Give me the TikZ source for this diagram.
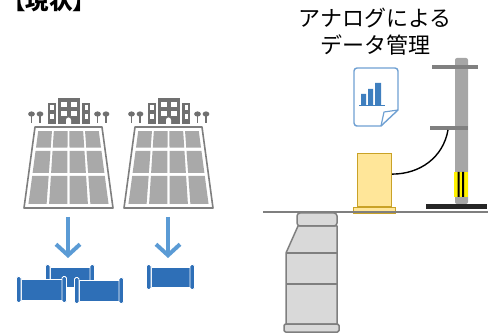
\documentclass[tikz,border=0pt]{standalone}
\usepackage{fontspec}
\newfontfamily\jpfont{Noto Sans CJK JP}
\usetikzlibrary{arrows.meta, positioning}

\definecolor{framegray}{HTML}{7F7F7F}
\definecolor{cellgray}{HTML}{A9A9A9}
\definecolor{bldggray}{HTML}{707070}
\definecolor{arrowblue}{HTML}{5B9BD5}
\definecolor{pipeblue}{HTML}{2E6FB7}
\definecolor{docblue}{HTML}{6FA0D2}
\definecolor{barblue}{HTML}{3F7FBF}
\definecolor{cabyellow}{HTML}{FFE699}
\definecolor{cabgold}{HTML}{C9A227}
\definecolor{polegray}{HTML}{A6A6A6}
\definecolor{armgray}{HTML}{808080}
\definecolor{holegray}{HTML}{D9D9D9}
\definecolor{plateblack}{HTML}{262626}
\definecolor{bandyellow}{HTML}{FFF200}

\begin{document}
\begin{tikzpicture}[
            x = 1pt,
            y = -1pt,
            declare function = {px(\u,\v) = 37.5-10.5*\v+\u*(62+21*\v);
                                py(\v)    = 129.5+76*\v;},
            panelframe/.style = {draw=framegray, fill=white, line width=1.6pt, line join=round},
            cell/.style       = {fill=cellgray},
            bldg/.style       = {fill=bldggray},
            flowarrow/.style  = {draw=arrowblue, line width=4pt,
                                 -{Straight Barb[length=11pt, width=24pt]}},
            pipebody/.style   = {fill=pipeblue, draw=white, line width=0.8pt},
            flange/.style     = {fill=pipeblue, draw=white, line width=0.8pt, rounded corners=1.5pt},
            cabinet/.style    = {draw=cabgold, fill=cabyellow, line width=1.2pt, inner sep=0pt},
            manhole/.style    = {draw=framegray, fill=holegray, line width=1.5pt, line join=round},
            cable/.style      = {draw=black, line width=1.4pt},
            label/.style      = {font=\jpfont\fontsize{22}{27}\selectfont, align=center, inner sep=0pt}
        ]
        \useasboundingbox (0,0) rectangle (488,334);

        % heading and caption
        \node[anchor=base west, inner sep=0pt, font=\jpfont\bfseries\fontsize{23.5}{28}\selectfont]
            (heading) at (2,10) {【現状】};
        \node[label] (caption) at (375,32) {アナログによる\\データ管理};

        % solar panels with the buildings behind them
        \foreach \ox in {0,100} {
            \pgfmathsetmacro{\cx}{68.5+\ox}
            \draw[panelframe] (35+\ox,127) -- (102+\ox,127) -- (113+\ox,208) -- (24+\ox,208) -- cycle;
            \foreach \ua/\ub in {0/.25,.25/.5,.5/.75,.75/1}
                \foreach \va/\vb in {0/.26,.26/.59,.59/1}
                    \fill[cell] ({px(\ua+.015,\va+.02)+\ox},{py(\va+.02)})
                             -- ({px(\ub-.015,\va+.02)+\ox},{py(\va+.02)})
                             -- ({px(\ub-.015,\vb-.02)+\ox},{py(\vb-.02)})
                             -- ({px(\ua+.015,\vb-.02)+\ox},{py(\vb-.02)}) -- cycle;
            % buildings
            \fill[bldg] (\cx-11,98) rectangle (\cx+11.5,124);
            \fill[bldg] (\cx-21,103) rectangle (\cx-12.5,124);
            \fill[bldg] (\cx+13,103) rectangle (\cx+21.5,124);
            \foreach \wy in {102,111} {
                \fill[white] (\cx-8,\wy) rectangle (\cx-2,\wy+5.5);
                \fill[white] (\cx+2,\wy) rectangle (\cx+8,\wy+5.5);
                \fill[white] (\cx-18.5,\wy+3.5) rectangle (\cx-15,\wy+8);
                \fill[white] (\cx+16,\wy+3.5) rectangle (\cx+19.5,\wy+8);
            }
            \fill[white] (\cx-2.5,124) -- (\cx-2.5,120) arc[start angle=180, end angle=0, radius=2.5pt] -- (\cx+2.5,124) -- cycle;
            % trees
            \foreach \tx in {-37,-28.5,29,37.5} {
                \draw[bldggray, line width=1.2pt] (\cx+\tx,114) -- (\cx+\tx,123);
                \fill[bldggray] (\cx+\tx,114) ellipse[x radius=3.4pt, y radius=2.6pt];
            }
        }

        % flow arrows
        \coordinate (from1) at (68,217);
        \coordinate (to1)   at (68,258);
        \coordinate (from2) at (168,217);
        \coordinate (to2)   at (168,258);
        \draw[flowarrow] (from1) -- (to1);
        \draw[flowarrow] (from2) -- (to2);

        % pipes: body x0/x1/y0/y1
        \foreach \xa/\xb/\ya/\yb in {50/90/267/287, 21/62/279/300, 79/119/280/301, 151/190/267/287} {
            \fill[pipebody] (\xa,\ya) rectangle (\xb,\yb);
            \draw[flange] (\xa-4.5,\ya-2.5) rectangle (\xa,\yb+2.5);
            \draw[flange] (\xb,\ya-2.5) rectangle (\xb+4.5,\yb+2.5);
        }

        % data sheet
        \draw[docblue, line width=1.4pt, line join=round]
            (381,126) -- (356,126) [rounded corners=3pt] -- (354,126) -- (354,68) -- (398,68) [sharp corners] -- (398,110) -- cycle;
        \draw[docblue, line width=1.2pt, line join=round] (398,110) -- (384,112) -- (381,126);
        \fill[barblue] (361,94) rectangle (366,105)
                       (368,89) rectangle (373,105)
                       (375,83) rectangle (381,105);
        \draw[barblue, line width=1pt] (359,105.5) -- (385,105.5);

        % manhole below ground
        \draw[manhole] (298,226) -- (337,226) -- (337,324) -- (286,324) -- (286,253) -- cycle;
        \draw[manhole] (286,253) -- (337,253) (286,284) -- (337,284);
        \draw[manhole, rounded corners=1.5pt] (284,324) rectangle (339,332);
        \draw[manhole, rounded corners=3pt] (297,213) rectangle (337,226);

        % pole
        \fill[polegray, rounded corners=2pt] (455,58) rectangle (468,204);
        \fill[armgray] (432,65) rectangle (478,69.5);
        \fill[armgray] (430,126) rectangle (468,130);
        \coordinate (armhook) at (448,130);
        \fill[bandyellow] (454,172) rectangle (468,197);
        \fill[black] (457.5,172) rectangle (459.5,197) (462,172) rectangle (464,197);
        \fill[plateblack] (426,204) rectangle (487,209);

        % cabinet and its cable
        \node[cabinet, minimum width=34pt, minimum height=53pt, anchor=north west] (box) at (357,153) {};
        \node[cabinet, minimum width=42pt, minimum height=6pt, below=0pt of box] (boxbase) {};
        \draw[cable] ([yshift=6pt]box.east) to[out=0, in=-100] (armhook);

        % ground
        \draw[framegray, line width=1.2pt] (263,212) -- (488,212);
    \end{tikzpicture}
\end{document}
